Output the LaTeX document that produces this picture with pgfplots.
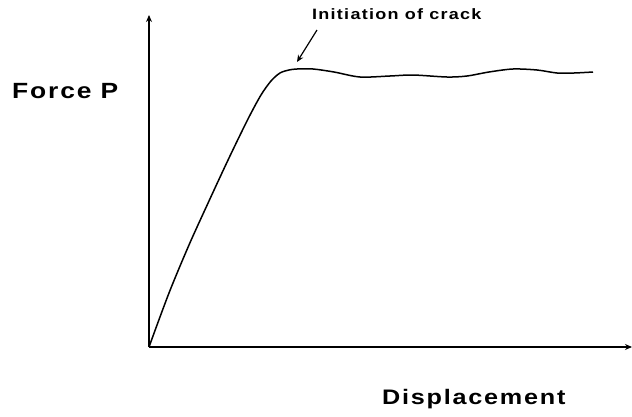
\documentclass[border=0pt]{standalone}
\usepackage{fontspec}
\setmainfont{Liberation Sans}
\usepackage{pgfplots}
\pgfplotsset{compat=1.18}
\usetikzlibrary{arrows.meta}
\newfontfamily\lblfont[LetterSpace=7]{Liberation Sans}
\begin{document}
\begin{tikzpicture}
\begin{axis}[
  scale only axis, width=483pt, height=332pt,
  xmin=0, xmax=483, ymin=0, ymax=332,
  axis lines=left,
  axis line style={line width=1.6pt, -{Stealth[length=7pt,width=6pt]}},
  xtick=\empty, ytick=\empty,
  clip=false,
]
\addplot[smooth, tension=0.5, line width=1.5pt, black] coordinates {
(0,0) (20,54) (40,102) (60,146) (80,189) (99,228) (112,252) (122,266)
(131,274) (140,277) (148,278) (164,278) (185,275) (211,270) (241,271)
(264,272) (298,270) (318,271) (340,275) (364,278) (388,277) (408,274)
(425,274) (444,275)
};
\draw[line width=1.2pt, -{Stealth[length=7pt,width=6pt]}] (axis cs:168,317) -- (axis cs:148,285);
\node[anchor=base west, inner sep=0pt, font=\lblfont\bfseries\fontsize{15}{18}\selectfont] at (axis cs:163,327) {\scalebox{1.2}[1]{Initiation of crack}};
\node[anchor=base west, inner sep=0pt, font=\lblfont\bfseries\fontsize{22}{26}\selectfont] at (axis cs:-137,249) {\scalebox{1.2}[1]{Force P}};
\node[anchor=base west, inner sep=0pt, font=\lblfont\bfseries\fontsize{21}{25}\selectfont] at (axis cs:233,-57) {\scalebox{1.2}[1]{Displacement}};
\coordinate (bl) at (axis cs:-149,-69);
\coordinate (tr) at (axis cs:483,347);
\end{axis}
\pgfresetboundingbox
\path (bl) rectangle (tr);
\end{tikzpicture}
\end{document}
